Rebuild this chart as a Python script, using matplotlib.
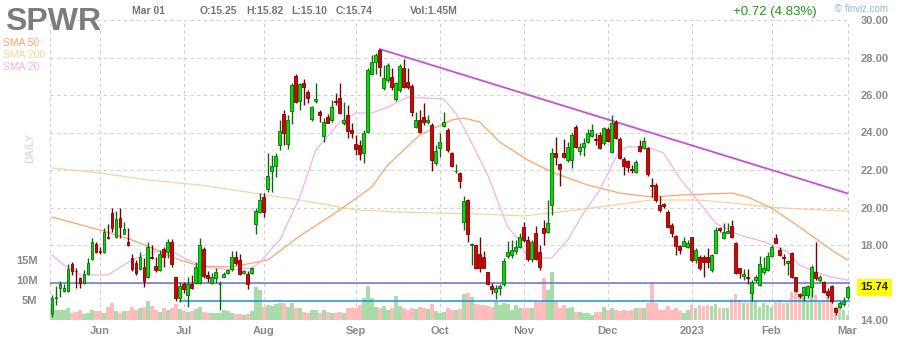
import matplotlib
matplotlib.use('Agg')
import matplotlib.pyplot as plt
from matplotlib.patches import Rectangle

plt.rcParams['font.family'] = ['Liberation Sans', 'DejaVu Sans']

# daily candles, 13 May 2022 .. 1 Mar 2023 (index = trading day)
opens = [14.35, 15.20, 15.69, 15.57, 15.57, 16.97, 16.63, 16.22, 16.00, 16.44,
         17.26, 18.04, 17.70, 17.61, 18.42, 19.69, 18.45, 19.43, 18.61, 18.15,
         17.29, 17.03, 16.72, 16.85, 16.31, 17.38, 16.90, 16.65, 17.77, 17.65,
         18.18, 16.28, 15.16, 15.90, 15.34, 15.90, 15.96, 15.96, 17.79, 16.40,
         15.96, 16.22, 15.90, 16.31, 16.49, 16.72, 17.35, 17.20, 16.53, 16.44,
         16.53, 19.11, 19.78, 20.54, 20.97, 21.96, 22.21, 23.33, 24.99, 23.39,
         25.16, 27.01, 25.70, 26.62, 26.18, 24.70, 25.66, 25.09, 23.81, 24.81,
         24.67, 25.68, 25.82, 24.49, 24.92, 24.13, 23.39, 23.33, 22.92, 24.04,
         27.10, 27.78, 28.40, 26.36, 26.80, 26.98, 25.79, 26.27, 27.42, 26.71,
         26.50, 24.31, 24.67, 24.84, 24.54, 24.40, 22.36, 23.16, 24.36, 24.13,
         22.89, 21.93, 21.86, 19.21, 20.40, 18.00, 18.00, 17.50, 17.38, 16.54,
         15.83, 15.51, 15.69, 15.90, 17.43, 17.47, 17.68, 17.90, 18.98, 18.27,
         17.24, 18.66, 17.64, 18.89, 18.71, 20.13, 22.92, 22.32, 22.89, 22.53,
         22.53, 24.28, 23.03, 23.24, 23.51, 23.81, 23.64, 23.87, 23.42, 24.17,
         22.98, 24.58, 23.64, 22.57, 22.48, 22.05, 21.91, 23.28, 23.16, 23.16,
         21.20, 21.20, 20.13, 20.20, 19.78, 19.06, 18.48, 17.95, 17.95, 17.91,
         18.41, 17.20, 17.34, 17.34, 17.34, 16.67, 17.59, 18.93, 18.36, 18.66,
         19.02, 18.13, 16.76, 16.35, 16.28, 15.42, 16.13, 15.87, 16.58, 16.67,
         17.41, 18.36, 17.73, 17.38, 17.06, 17.59, 16.27, 15.38, 15.33, 15.33,
         15.74, 16.58, 16.13, 16.04, 15.56, 15.81, 14.62, 14.68, 14.85, 15.25]
highs = [15.35, 15.80, 16.08, 15.90, 16.99, 17.10, 16.75, 16.30, 16.67, 17.30,
         18.36, 18.18, 17.90, 18.89, 19.10, 20.00, 19.82, 19.96, 19.25, 18.90,
         17.50, 17.20, 17.65, 17.29, 18.18, 18.00, 17.38, 17.74, 17.91, 18.32,
         18.32, 16.31, 16.01, 16.01, 16.31, 16.40, 17.11, 18.36, 17.91, 16.62,
         16.49, 16.80, 16.08, 16.58, 16.72, 17.68, 17.68, 17.50, 16.67, 16.62,
         16.85, 20.00, 20.76, 20.76, 22.89, 22.80, 22.89, 24.67, 25.20, 24.93,
         26.62, 27.12, 26.66, 26.84, 26.27, 25.41, 26.62, 25.20, 24.76, 24.99,
         25.73, 26.12, 26.62, 25.64, 25.47, 24.49, 23.86, 23.60, 24.13, 27.42,
         28.13, 28.22, 28.45, 27.60, 27.69, 27.42, 26.71, 27.64, 27.92, 27.42,
         26.57, 25.11, 25.20, 25.56, 24.93, 24.49, 23.33, 24.00, 25.11, 24.22,
         22.98, 22.30, 21.91, 20.63, 20.45, 18.09, 18.04, 18.45, 17.68, 16.58,
         15.96, 15.87, 15.90, 17.29, 18.20, 18.27, 18.27, 18.62, 19.24, 18.50,
         18.27, 19.00, 18.00, 19.33, 20.40, 23.16, 23.78, 22.36, 23.64, 23.51,
         23.96, 24.40, 23.42, 23.69, 24.17, 24.45, 23.96, 24.04, 24.31, 24.28,
         24.93, 24.67, 23.78, 22.71, 22.53, 22.27, 22.53, 23.60, 23.74, 23.24,
         21.60, 21.29, 20.61, 20.22, 19.87, 19.15, 18.53, 18.00, 18.44, 18.27,
         18.44, 17.82, 17.47, 17.47, 17.82, 17.52, 18.98, 18.98, 19.15, 19.15,
         19.33, 18.18, 16.80, 16.70, 16.70, 16.13, 16.40, 17.41, 17.38, 17.64,
         18.00, 18.58, 17.91, 17.52, 17.20, 17.64, 16.31, 15.46, 15.81, 15.87,
         16.93, 18.18, 16.40, 16.10, 15.69, 15.87, 14.71, 15.03, 15.24, 15.82]
lows = [14.15, 14.80, 15.25, 15.50, 15.50, 16.40, 15.70, 15.70, 15.90, 16.40,
        17.20, 17.56, 17.50, 17.56, 18.30, 18.68, 18.40, 18.40, 18.57, 17.95,
        16.62, 16.40, 16.67, 15.78, 16.26, 17.26, 16.58, 16.62, 16.85, 17.33,
        16.85, 15.02, 14.98, 15.43, 14.71, 15.66, 15.90, 15.90, 16.23, 16.01,
        15.90, 15.96, 14.53, 16.30, 16.44, 16.62, 16.94, 16.40, 16.47, 15.66,
        16.47, 18.57, 19.69, 19.48, 20.84, 20.84, 21.64, 23.07, 23.33, 23.10,
        24.45, 25.55, 25.20, 25.47, 25.59, 24.63, 25.59, 24.58, 23.51, 24.49,
        24.58, 25.47, 24.98, 24.40, 23.69, 23.69, 22.80, 22.53, 22.35, 23.96,
        27.07, 27.10, 27.03, 26.27, 26.71, 26.27, 25.68, 26.18, 26.39, 26.32,
        24.90, 24.22, 23.96, 24.40, 24.44, 21.95, 22.27, 22.71, 24.31, 22.98,
        22.18, 21.82, 21.02, 18.80, 18.18, 16.93, 16.72, 16.58, 16.76, 15.87,
        15.37, 15.12, 15.33, 15.83, 17.29, 17.29, 17.50, 17.82, 18.18, 17.16,
        17.11, 17.20, 16.67, 18.00, 18.66, 19.60, 22.27, 21.15, 22.62, 22.44,
        22.09, 23.16, 22.80, 22.75, 23.42, 23.74, 23.33, 23.10, 23.33, 23.51,
        22.89, 23.64, 22.57, 21.73, 21.90, 21.86, 21.86, 22.98, 23.10, 21.68,
        20.57, 20.31, 19.78, 19.95, 18.89, 18.44, 17.47, 17.52, 17.94, 17.82,
        17.11, 17.02, 16.67, 16.27, 16.80, 16.58, 17.56, 18.71, 18.30, 18.62,
        18.36, 16.45, 16.22, 16.13, 15.92, 15.03, 16.04, 15.82, 16.45, 16.63,
        17.34, 18.09, 17.41, 16.93, 16.40, 16.22, 15.51, 15.20, 15.03, 15.16,
        15.24, 16.13, 16.04, 15.42, 15.20, 14.92, 14.27, 14.62, 14.75, 15.10]
closes = [15.20, 15.25, 15.90, 15.69, 16.72, 16.60, 16.60, 15.96, 16.44, 17.03,
          18.18, 17.65, 17.62, 18.68, 18.35, 18.89, 19.39, 18.98, 18.86, 18.00,
          16.72, 16.49, 17.38, 16.08, 17.91, 17.32, 16.65, 17.50, 17.35, 18.18,
          16.97, 15.16, 15.83, 15.66, 15.90, 15.69, 16.85, 18.00, 16.37, 16.22,
          16.31, 16.58, 15.92, 16.44, 16.65, 17.35, 17.03, 16.44, 16.60, 15.90,
          16.76, 19.82, 20.40, 19.78, 21.68, 22.21, 22.75, 24.08, 23.99, 24.67,
          26.53, 25.64, 26.59, 26.44, 25.82, 25.34, 25.77, 24.92, 24.58, 24.52,
          25.38, 25.63, 25.02, 24.67, 24.10, 23.96, 23.10, 22.85, 23.96, 27.33,
          27.74, 28.13, 27.51, 26.89, 27.60, 26.44, 26.62, 27.56, 26.44, 26.44,
          25.11, 24.67, 24.04, 24.54, 24.67, 22.53, 23.01, 23.51, 24.54, 23.07,
          22.23, 21.96, 21.41, 20.35, 18.57, 18.03, 16.76, 16.79, 16.79, 15.90,
          15.65, 15.72, 15.83, 17.15, 17.64, 17.73, 17.90, 18.44, 18.27, 17.24,
          18.18, 17.24, 16.84, 18.66, 19.15, 22.89, 22.71, 22.03, 22.67, 23.21,
          23.87, 23.21, 23.21, 23.46, 23.96, 24.13, 23.60, 23.16, 24.22, 23.56,
          24.49, 23.69, 22.62, 22.21, 22.18, 22.00, 22.44, 23.03, 23.56, 21.80,
          21.15, 20.40, 19.87, 20.08, 18.94, 18.66, 17.95, 17.73, 18.21, 18.09,
          17.20, 17.73, 16.76, 17.11, 17.11, 17.47, 18.80, 18.80, 18.71, 18.76,
          18.44, 16.52, 16.49, 16.45, 16.22, 16.04, 16.31, 16.99, 16.80, 17.41,
          17.91, 18.13, 17.47, 17.29, 17.15, 16.27, 15.56, 15.28, 15.74, 15.81,
          16.84, 16.22, 16.31, 15.51, 15.33, 15.03, 14.45, 14.92, 15.03, 15.74]
# volume, millions of shares
volumes = [2.92, 2.50, 2.50, 2.50, 3.08, 1.83, 2.08, 2.50, 1.50, 1.83,
           2.50, 2.25, 2.25, 1.67, 3.33, 4.33, 2.25, 1.83, 2.25, 2.25,
           3.33, 2.50, 2.92, 3.33, 4.83, 3.50, 2.50, 2.08, 2.92, 2.50,
           2.92, 4.00, 2.67, 2.33, 2.08, 2.33, 2.67, 3.33, 2.08, 1.83,
           1.83, 1.83, 1.83, 2.50, 2.33, 1.83, 1.50, 1.50, 1.25, 1.50,
           2.33, 8.33, 7.50, 3.33, 3.75, 3.50, 4.00, 4.33, 4.17, 3.33,
           4.33, 3.08, 2.92, 2.08, 1.83, 2.50, 2.50, 1.83, 2.50, 2.08,
           1.83, 1.67, 2.08, 1.67, 3.08, 3.08, 3.08, 3.75, 5.42, 8.50,
           5.42, 3.33, 2.92, 3.50, 2.50, 2.92, 6.00, 3.50, 3.08, 2.50,
           2.92, 2.67, 3.33, 2.92, 2.67, 4.00, 2.25, 1.83, 2.08, 3.08,
           2.50, 2.50, 2.67, 6.50, 6.67, 5.83, 4.00, 3.75, 3.75, 3.50,
           3.33, 4.58, 3.75, 4.33, 4.00, 2.50, 3.75, 2.92, 2.92, 2.92,
           2.92, 4.58, 4.58, 10.58, 7.50, 12.08, 4.58, 2.92, 3.75, 2.92,
           3.33, 2.08, 2.08, 1.83, 1.83, 1.25, 2.08, 2.08, 3.33, 2.50,
           3.08, 2.50, 2.33, 2.50, 2.25, 2.50, 2.92, 2.92, 2.92, 4.33,
           9.00, 4.17, 2.50, 2.50, 3.50, 2.50, 2.92, 2.25, 1.83, 2.50,
           3.75, 2.92, 3.75, 3.50, 3.75, 3.50, 4.00, 2.92, 3.08, 3.08,
           5.17, 6.50, 5.00, 4.33, 4.17, 6.83, 5.00, 3.33, 4.33, 3.75,
           3.33, 4.58, 5.00, 4.17, 4.33, 7.08, 7.92, 6.25, 7.08, 4.58,
           8.33, 6.25, 4.58, 5.00, 6.25, 5.42, 2.92, 3.50, 2.50, 1.25]

# moving averages (trading-day index, price)
sma20_idx = [0, 3, 7, 14, 20, 25, 30, 33, 38, 45, 50, 52, 57, 62, 66, 72, 76, 80, 84, 89,
             98, 101, 104, 109, 114, 117, 119, 124, 125, 129, 133, 137, 142, 144, 149, 153,
             157, 162, 166, 172, 179, 184, 187, 191, 195, 199]
sma20_val = [17.47, 16.93, 16.40, 16.40, 17.20, 17.63, 17.68, 17.31, 16.83, 16.67, 16.77,
             17.09, 18.27, 20.56, 23.07, 24.56, 25.04, 25.04, 25.36, 25.89, 25.79, 25.04,
             23.87, 21.73, 18.96, 18.20, 17.31, 17.31, 17.31, 18.27, 19.71, 20.93, 23.07,
             23.23, 23.23, 22.91, 21.57, 20.24, 19.17, 18.53, 18.11, 17.63, 16.93, 16.56,
             16.29, 16.13]
sma50_idx = [0, 12, 20, 25, 32, 37, 45, 54, 62, 72, 80, 84, 92, 100, 103, 107, 112, 119,
             125, 134, 142, 150, 158, 170, 174, 180, 187, 195, 199]
sma50_val = [19.49, 18.80, 18.27, 17.84, 17.20, 16.88, 16.83, 17.20, 18.48, 19.87, 21.09,
             22.27, 23.87, 24.67, 24.77, 24.56, 23.49, 22.53, 21.89, 21.20, 20.77, 20.56,
             20.67, 20.77, 20.56, 19.97, 18.96, 17.73, 17.20]
sma200_idx = [0, 12, 24, 37, 47, 62, 76, 87, 96, 107, 118, 127, 137, 150, 162, 170, 179,
              187, 199]
sma200_val = [22.11, 21.84, 21.47, 21.20, 20.88, 20.40, 19.87, 19.76, 19.71, 19.65, 19.55,
              19.76, 20.03, 20.40, 20.40, 20.24, 20.03, 19.92, 19.81]

trend_idx = [82, 199]
trend_val = [28.45, 20.75]
level_blue = 16.0
level_cyan = 15.0
cyan_start = 32

month_idx = [12, 33, 53, 76, 97, 118, 139, 160, 180, 199]
month_labels = ['Jun', 'Jul', 'Aug', 'Sep', 'Oct', 'Nov', 'Dec', '2023', 'Feb', 'Mar']
price_ticks = [14, 18, 20, 22, 24, 26, 28, 30]   # 16.00 sits under the last-price box
grid_levels = [16, 18, 20, 22, 24, 26, 28, 30]
vol_ticks = [5, 10, 15]

W, H = 900, 340
fig = plt.figure(figsize=(9, 3.4), dpi=100)
pos = [50 / W, 20 / H, 799.5 / W, 300 / H]
axv = fig.add_axes(pos)
ax = fig.add_axes(pos, sharex=axv)
ax.patch.set_visible(False)

grid_kw = dict(color='#d0d0d0', lw=0.8, ls=(0, (3, 3)), zorder=0)

# volume
n = len(closes)
xs = list(range(n))
up = [c >= o for o, c in zip(opens, closes)]
axv.bar(xs, volumes, width=0.95, color=['#aadcaa' if u else '#ffbcbc' for u in up],
        lw=0, zorder=1)
axv.set_ylim(0, 75)
for m in month_idx:
    axv.axvline(m, **grid_kw)
axv.axvline(-0.5, **grid_kw)
axv.set_yticks(vol_ticks)
axv.set_yticklabels([f'{v}M' for v in vol_ticks])
axv.set_xticks(month_idx)
axv.set_xticklabels(month_labels)
axv.tick_params(axis='y', length=0, pad=9, labelsize=8, labelcolor='#8a8a8a')
axv.tick_params(axis='x', length=0, pad=4, labelsize=8, labelcolor='#8a8a8a')
for lbl in axv.get_xticklabels() + axv.get_yticklabels():
    lbl.set_fontweight('bold')
for s in axv.spines.values():
    s.set_visible(False)

# price
ax.set_ylim(14, 30)
ax.set_xlim(-0.5, 199.5)
for p in grid_levels:
    ax.axhline(p, **grid_kw)

ax.plot(sma200_idx, sma200_val, color='#f3d69c', lw=0.9, zorder=2)
ax.plot(sma50_idx, sma50_val, color='#ffa466', lw=0.9, zorder=2)
ax.plot(sma20_idx, sma20_val, color='#f4b0ea', lw=0.9, zorder=2)

ax.axhline(level_blue, color='#6f6fd0', lw=1.1, zorder=3)
ax.plot([cyan_start, 199.5], [level_cyan, level_cyan], color='#2090d0', lw=1.1, zorder=3)
ax.plot(trend_idx, trend_val, color='#c650d6', lw=1.3, zorder=3)

wick_col = ['#0b6b0b' if u else '#7a0000' for u in up]
ax.vlines(xs, lows, highs, colors=wick_col, lw=1, zorder=4)
bottoms = [min(o, c) for o, c in zip(opens, closes)]
heights = [max(abs(c - o), 0.04) for o, c in zip(opens, closes)]
ax.bar(xs, heights, bottom=bottoms, width=0.72,
       color=['#00e000' if u else '#e00000' for u in up],
       edgecolor=wick_col, lw=0.6, zorder=5)

ax.yaxis.tick_right()
ax.set_yticks(price_ticks)
ax.set_yticklabels([f'{p:.2f}' for p in price_ticks])
ax.tick_params(axis='y', length=0, pad=8, labelsize=8, labelcolor='#8a8a8a')
ax.tick_params(axis='x', length=0, labelbottom=False)
for lbl in ax.get_yticklabels():
    lbl.set_fontweight('bold')
for s in ax.spines.values():
    s.set_visible(False)

# header and labels
def px(x, y):
    return x / W, 1 - y / H

fig.text(*px(5, 30), 'SPWR', fontsize=23, fontweight='bold', color='#7c7c7c', va='baseline')
hdr = dict(fontsize=7.5, fontweight='bold', color='#747474', va='baseline')
fig.text(*px(132, 14), 'Mar 01', **hdr)
fig.text(*px(200, 14), 'O:15.25', **hdr)
fig.text(*px(246, 14), 'H:15.82', **hdr)
fig.text(*px(291, 14), 'L:15.10', **hdr)
fig.text(*px(336, 14), 'C:15.74', **hdr)
fig.text(*px(410, 14), 'Vol:1.45M', **hdr)
fig.text(*px(733, 15), '+0.72 (4.83%)', fontsize=9.5, color='#1a9a1a', va='baseline')
fig.text(*px(835, 12), '\u00a9 finviz.com', fontsize=7, color='#8cb8e6', va='baseline')

fig.text(*px(3, 46), 'SMA 50', fontsize=7.5, color='#ffa466', va='baseline')
fig.text(*px(3, 58), 'SMA 200', fontsize=7.5, color='#f3d69c', va='baseline')
fig.text(*px(3, 70), 'SMA 20', fontsize=7.5, color='#f4b0ea', va='baseline')
fig.text(*px(30, 148), 'DAILY', fontsize=7.5, fontweight='bold', color='#dcdcdc',
         rotation=90, ha='center', va='center')

fig.patches.append(Rectangle(px(857, 296), 35 / W, 17 / H, transform=fig.transFigure,
                             facecolor='#ffff00', edgecolor='none', zorder=10))
fig.text(*px(874.5, 287.5), '15.74', fontsize=8, fontweight='bold', color='#222222',
         ha='center', va='center', zorder=11)

fig.savefig('out.png', dpi=100, facecolor='white')
